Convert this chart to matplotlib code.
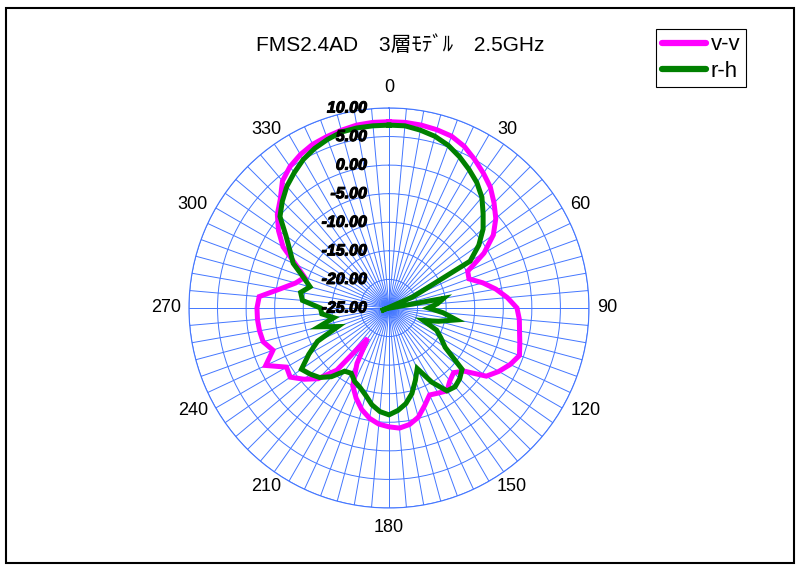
import numpy as np
import matplotlib.pyplot as plt
from matplotlib import transforms
from matplotlib import patheffects
from matplotlib.patches import Rectangle

plt.rcParams['font.family'] = ['Liberation Sans', 'Noto Sans CJK JP']

# antenna pattern, gain in dB every 5 degrees
angles = np.arange(0, 360, 5)
vv = [7.6, 7.6, 7.5, 7.3, 7.0, 6.2, 5.0, 3.8, 2.6, 1.0, -0.6, -2.7,
      -5.8, -9.8, -10.1, -8.0, -6.0, -4.2, -2.6, -2.1, -1.8, -1.3, -0.7, -1.6,
      -2.8, -4.2, -7.8, -9.0, -8.4, -7.3, -7.8, -8.2, -6.8, -5.2, -4.3, -3.9,
      -4.2, -4.6, -5.4, -6.6, -8.2, -10.0, -13.8, -18.5, -10.8, -7.5, -5.6, -3.9,
      -4.3, -1.2, -3.4, -2.2, -2.0, -1.9, -1.9, -2.2, -5.7, -8.1, -9.3, -7.0,
      -3.6, -1.4, 0.5, 1.9, 4.0, 5.2, 6.0, 6.6, 6.9, 7.2, 7.5, 7.6]
rh = [7.0, 7.0, 6.6, 6.1, 5.3, 4.2, 3.0, 1.8, 0.3, -1.7, -3.5, -5.8,
      -8.6, -20.4, -26.5, -25.5, -15.3, -16.5, -18.1, -15.5, -13.0, -16.0, -18.6, -15.8,
      -14.5, -13.0, -8.3, -7.5, -7.0, -7.3, -10.0, -13.3, -11.5, -9.5, -8.0, -7.0,
      -6.3, -6.8, -7.8, -9.2, -10.2, -10.8, -11.8, -11.5, -9.3, -7.8, -7.0, -6.3,
      -8.8, -11.2, -15.5, -12.3, -15.2, -13.2, -13.0, -9.8, -9.3, -10.7, -9.0, -6.5,
      -5.0, -3.0, -0.1, 1.4, 2.8, 3.9, 5.0, 5.8, 6.4, 6.9, 7.0, 7.0]
series = [('v-v', vv, '#ff00ff'), ('r-h', rh, '#008000')]

rmin, rmax = -25, 10
rings = np.arange(rmin, rmax + 1, 5)
label_angles = np.arange(0, 360, 30)
grid_blue = '#4477ff'


def polar_points(vals):
    # values under the axis minimum go through the centre, like a radar chart
    th = np.deg2rad(angles).astype(float)
    v = np.asarray(vals, dtype=float)
    low = v < rmin
    th = np.where(low, th + np.pi, th)
    r = np.where(low, 2 * rmin - v, v)
    return np.append(th, th[0]), np.append(r, r[0])


fig = plt.figure(figsize=(7.97, 5.65), dpi=100)
ax = fig.add_axes([0.2371, 0.1009, 0.5019, 0.708], projection='polar')
ax.set_theta_zero_location('N')
ax.set_theta_direction(-1)
ax.set_ylim(rmin, rmax)
ax.set_axisbelow(True)

for name, vals, col in series:
    th, r = polar_points(vals)
    ax.plot(th, r, color=col, lw=3.6, label=name, solid_joinstyle='miter')

ax.set_rgrids(rings[1:], labels=[''] * (len(rings) - 1))
ax.set_thetagrids(angles, [''] * len(angles))
ax.grid(True, color=grid_blue, lw=0.7)
ax.spines['polar'].set_color(grid_blue)
ax.spines['polar'].set_linewidth(0.8)

# angle labels sit just outside the rim, left or right of their spoke
for a in label_angles:
    s = np.sin(np.deg2rad(a))
    c = np.cos(np.deg2rad(a))
    if a in (0, 180):
        off, ha = (0, 20 * c), 'center'
    else:
        off, ha = (8 * np.sign(s), 6 * c), ('left' if s > 0 else 'right')
    ax.annotate(str(a), xy=(np.deg2rad(a), rmax), xytext=off,
                textcoords='offset pixels', ha=ha, va='center', fontsize=13,
                annotation_clip=False)

shift = transforms.offset_copy(ax.transData, fig=fig, x=-22, y=0, units='dots')
for v in rings:
    ax.text(0, v, f'{v:.2f}', transform=shift, ha='right', va='center',
            fontsize=11.5, fontweight='bold', fontstyle='italic', zorder=5,
            path_effects=[patheffects.withStroke(linewidth=0.8, foreground='black')])

fig.text(0.502, 0.920, 'FMS2.4AD　3層ﾓﾃﾞﾙ　2.5GHz', ha='center', va='center',
         fontsize=15)

leg = ax.legend(loc='upper right', bbox_to_anchor=(0.936, 0.949),
                bbox_transform=fig.transFigure, fancybox=False, framealpha=1,
                edgecolor='black', fontsize=16, handlelength=2.0,
                handletextpad=0.2, borderpad=0.25, labelspacing=0.25,
                borderaxespad=0)
leg.get_frame().set_linewidth(0.8)
for h in leg.get_lines():
    h.set_linewidth(4.5)
    h.set_solid_capstyle('round')

fig.patches.append(Rectangle((6 / 797, 2 / 565), 788 / 797, 555 / 565,
                             transform=fig.transFigure, fill=False,
                             edgecolor='black', lw=1.5))

fig.savefig('out.png', dpi=100)
